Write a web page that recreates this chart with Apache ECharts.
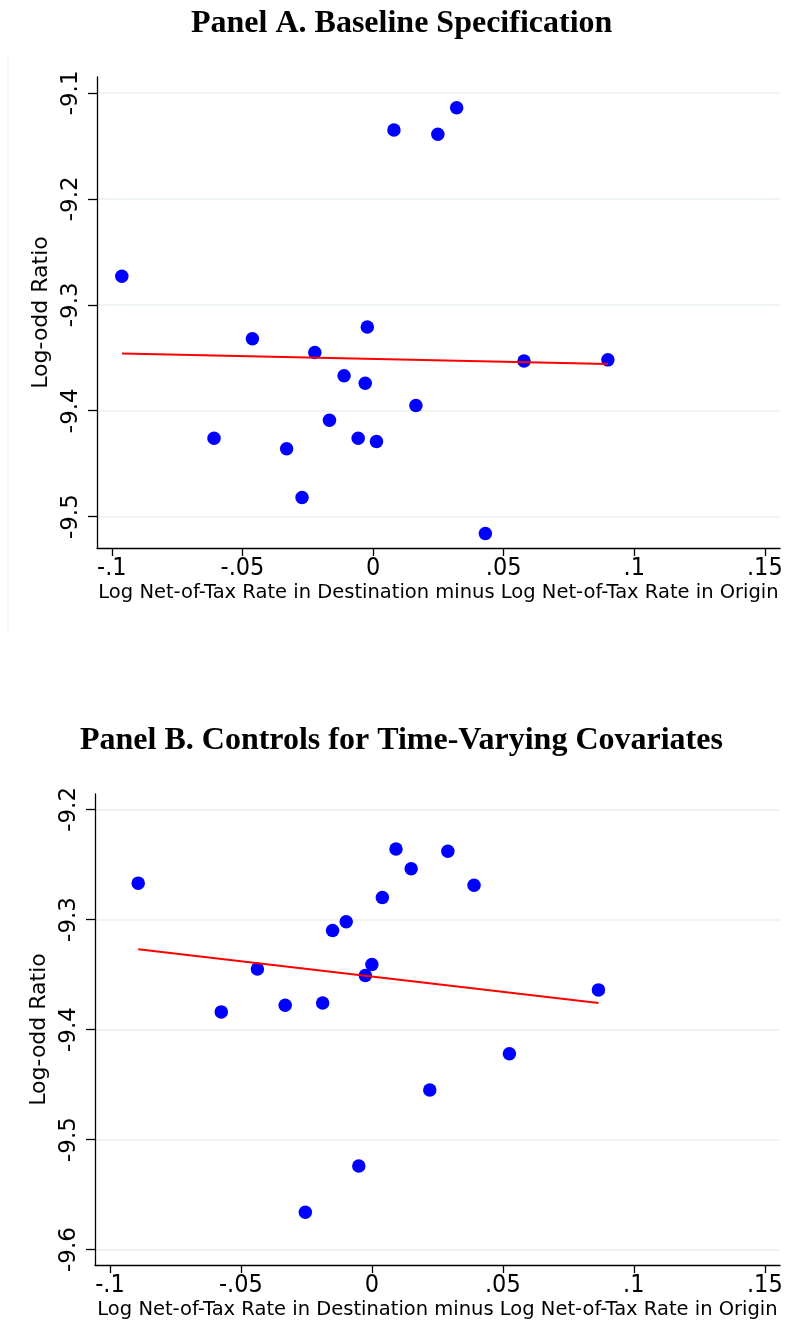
<!DOCTYPE html>
<html>
<head>
<meta charset="utf-8">
<script src="https://cdn.jsdelivr.net/npm/echarts@6/dist/echarts.min.js"></script>
<style>
html,body{margin:0;padding:0;background:#fff;}
#chart{width:786px;height:1326px;}
</style>
</head>
<body>
<div id="chart"></div>
<script>
// Panel A: baseline specification
const panelAX = [-0.0962, 0.0080, 0.0248, 0.0320, -0.0462, -0.0022, -0.0223, 0.0578, 0.0899, -0.0111, -0.0030, 0.0164, -0.0167, -0.0609, -0.0057, 0.0013, -0.0331, -0.0272, 0.0430];
const panelAY = [-9.273, -9.135, -9.139, -9.114, -9.332, -9.321, -9.345, -9.353, -9.352, -9.367, -9.374, -9.395, -9.409, -9.426, -9.426, -9.429, -9.436, -9.482, -9.516];
const panelAFitX = [-0.0961, 0.0899];
const panelAFitY = [-9.346, -9.356];

// Panel B: controls for time-varying covariates
const panelBX = [-0.0892, 0.0092, 0.0290, 0.0150, 0.0390, 0.0040, -0.0098, -0.0150, 0.0000, -0.0025, -0.0437, -0.0575, -0.0331, -0.0188, 0.0865, 0.0525, 0.0221, -0.0050, -0.0254];
const panelBY = [-9.267, -9.236, -9.238, -9.254, -9.269, -9.280, -9.302, -9.310, -9.341, -9.351, -9.345, -9.384, -9.378, -9.376, -9.364, -9.422, -9.455, -9.524, -9.566];
const panelBFitX = [-0.0892, 0.0865];
const panelBFitY = [-9.327, -9.376];

const xTicks = [-0.1, -0.05, 0, 0.05, 0.1, 0.15];
const xTickLabels = ['-.1', '-.05', '0', '.05', '.1', '.15'];
const yTicksA = [-9.5, -9.4, -9.3, -9.2, -9.1];
const yTicksB = [-9.6, -9.5, -9.4, -9.3, -9.2];

const titleA = 'Panel A. Baseline Specification';
const titleB = 'Panel B. Controls for Time-Varying Covariates';
const xName = 'Log Net-of-Tax Rate in Destination minus Log Net-of-Tax Rate in Origin';
const yName = 'Log-odd Ratio';

function pairs(xs, ys){ return xs.map((x,i)=>[x, ys[i]]); }
function fmtX(v){ const i = xTicks.findIndex(t => Math.abs(t - v) < 1e-9); return i >= 0 ? xTickLabels[i] : ''; }
function fmtY(v){ return (Math.round(v*10)/10).toFixed(1); }

const tickFont = 'DejaVu Sans Condensed, DejaVu Sans, sans-serif';
const gridColor = '#e8eff2';

function xAxis(gridIndex){
  return {
    type: 'value', gridIndex, min: -0.1057, max: 0.1558,
    name: xName, nameLocation: 'middle', nameGap: 35,
    nameTextStyle: {fontFamily: 'DejaVu Sans, sans-serif', fontSize: 19.5, color: '#000'},
    axisLine: {show: true, onZero: false, lineStyle: {color: '#000', width: 1.3}},
    axisTick: {show: true, length: 8, inside: false, customValues: xTicks, lineStyle: {color: '#000', width: 1.3}},
    axisLabel: {customValues: xTicks, formatter: fmtX, fontFamily: tickFont, fontSize: 25, color: '#000', margin: 8},
    splitLine: {show: false}
  };
}
function yAxis(gridIndex, min, max, ticks){
  return {
    type: 'value', gridIndex, min, max,
    name: yName, nameLocation: 'middle', nameGap: 44, nameRotate: 90,
    nameTextStyle: {fontFamily: 'DejaVu Sans, sans-serif', fontSize: 22, color: '#000'},
    axisLine: {show: true, onZero: false, lineStyle: {color: '#000', width: 1.3}},
    axisTick: {show: true, length: 9, inside: false, customValues: ticks, lineStyle: {color: '#000', width: 1.3}},
    axisLabel: {customValues: ticks, formatter: fmtY, rotate: 90, fontFamily: 'DejaVu Sans, sans-serif', fontSize: 23, color: '#000', margin: 14},
    splitLine: {show: true, lineStyle: {color: gridColor, width: 1.6}}
  };
}

const chart = echarts.init(document.getElementById('chart'), null, {renderer: 'canvas'});
chart.setOption({
  backgroundColor: '#fff',
  animation: false,
  title: [
    {text: titleA, left: 186, top: 3, textStyle: {fontFamily: 'Liberation Serif, Times New Roman, serif', fontWeight: 'bold', fontSize: 32, color: '#000'}},
    {text: titleB, left: 75, top: 720, textStyle: {fontFamily: 'Liberation Serif, Times New Roman, serif', fontWeight: 'bold', fontSize: 32, color: '#000'}}
  ],
  grid: [
    {left: 97, top: 77, width: 683, height: 471},
    {left: 95, top: 794, width: 685, height: 471}
  ],
  xAxis: [xAxis(0), xAxis(1)],
  yAxis: [yAxis(0, -9.5296, -9.085, yTicksA), yAxis(1, -9.614, -9.186, yTicksB)],
  graphic: [
    {type: 'line', shape: {x1: 8, y1: 55, x2: 8, y2: 633}, style: {stroke: '#eeeeee', lineWidth: 1}}
  ],
  series: [
    {type: 'scatter', xAxisIndex: 0, yAxisIndex: 0, data: pairs(panelAX, panelAY), symbol: 'circle', symbolSize: 13.5, itemStyle: {color: '#0000ff', opacity: 1}, z: 3},
    {type: 'line', xAxisIndex: 0, yAxisIndex: 0, data: pairs(panelAFitX, panelAFitY), showSymbol: false, symbol: 'none', lineStyle: {color: '#ff0000', width: 2}, z: 4},
    {type: 'scatter', xAxisIndex: 1, yAxisIndex: 1, data: pairs(panelBX, panelBY), symbol: 'circle', symbolSize: 13.5, itemStyle: {color: '#0000ff', opacity: 1}, z: 3},
    {type: 'line', xAxisIndex: 1, yAxisIndex: 1, data: pairs(panelBFitX, panelBFitY), showSymbol: false, symbol: 'none', lineStyle: {color: '#ff0000', width: 2}, z: 4}
  ]
});
</script>
</body>
</html>
